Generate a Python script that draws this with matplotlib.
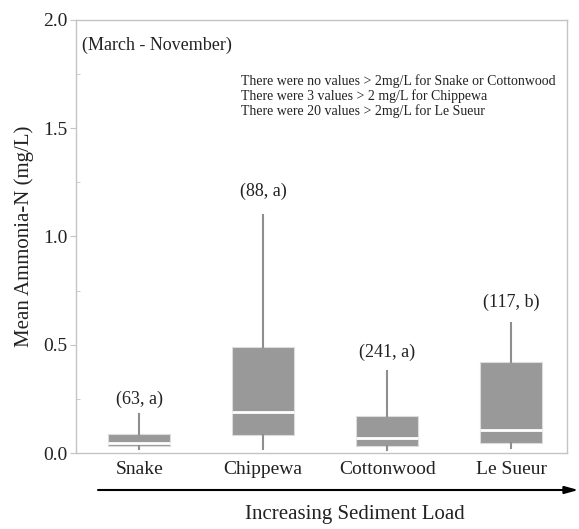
import matplotlib
matplotlib.use("Agg")
import matplotlib.pyplot as plt

plt.rcParams['font.family'] = ['Liberation Serif', 'DejaVu Serif']

# box statistics (mg/L)
rivers = ["Snake", "Chippewa", "Cottonwood", "Le Sueur"]
whisker_low = [0.02, 0.017, 0.012, 0.022]
q1 = [0.031, 0.082, 0.031, 0.045]
median = [0.046, 0.19, 0.071, 0.107]
q3 = [0.09, 0.49, 0.172, 0.419]
whisker_high = [0.18, 1.10, 0.378, 0.60]
labels = ["(63, a)", "(88, a)", "(241, a)", "(117, b)"]
label_y = [0.25, 1.21, 0.465, 0.695]

note = ("There were no values > 2mg/L for Snake or Cottonwood\n"
        "There were 3 values > 2 mg/L for Chippewa\n"
        "There were 20 values > 2mg/L for Le Sueur")

box_grey = "#999999"
line_grey = "#8e8e8e"
spine_grey = "#c4c4c4"

fig = plt.figure(figsize=(5.79, 5.29), dpi=100)
ax = fig.add_axes([76 / 579, 1 - 453 / 529, 491 / 579, 433 / 529])

stats = []
for i, name in enumerate(rivers):
    stats.append(dict(label=name, whislo=whisker_low[i], q1=q1[i], med=median[i],
                      q3=q3[i], whishi=whisker_high[i], fliers=[]))

positions = list(range(1, len(rivers) + 1))
ax.bxp(stats, positions=positions, widths=0.5, patch_artist=True, showcaps=False,
       boxprops=dict(facecolor=box_grey, edgecolor="#dcdcdc", linewidth=0.8),
       medianprops=dict(color="white", linewidth=2),
       whiskerprops=dict(color=line_grey, linewidth=1.5))

for p, lab, ly in zip(positions, labels, label_y):
    ax.text(p, ly, lab, ha="center", va="center", fontsize=13, color="#222222")

ax.text(0.54, 1.885, "(March - November)", ha="left", va="center", fontsize=13, color="#222222")
ax.text(1.82, 1.748, note, ha="left", va="top", fontsize=10, linespacing=1.12, color="#222222")

ax.set_xlim(0.49, 4.45)
ax.set_ylim(0, 2.0)
ax.set_yticks([0, 0.5, 1.0, 1.5, 2.0])
ax.set_yticklabels(["0.0", "0.5", "1.0", "1.5", "2.0"])
ax.set_yticks([0.25, 0.75, 1.25, 1.75], minor=True)
ax.set_xticks(positions)
ax.set_xticklabels(rivers)
ax.tick_params(axis="y", which="major", length=4, color=spine_grey, labelsize=14, pad=2,
               labelcolor="#222222")
ax.tick_params(axis="y", which="minor", length=3, color=spine_grey, direction="in")
ax.tick_params(axis="x", length=0, labelsize=14, pad=6, labelcolor="#222222")
for s in ax.spines.values():
    s.set_color(spine_grey)
    s.set_linewidth(1)

ax.set_ylabel("Mean Ammonia-N (mg/L)", fontsize=15, labelpad=7, color="#222222")

# arrow below the axis
ax.annotate("", xy=(0.999, 1 - 490 / 529), xytext=(98 / 579, 1 - 490 / 529),
            xycoords="figure fraction", textcoords="figure fraction",
            arrowprops=dict(arrowstyle="-|>,head_length=0.8,head_width=0.22",
                            color="black", lw=1.5, shrinkA=0, shrinkB=0))
fig.text(355 / 579, 1 - 515 / 529, "Increasing Sediment Load", ha="center", va="center",
         fontsize=15, color="#222222")

fig.savefig("out.png", dpi=100)
